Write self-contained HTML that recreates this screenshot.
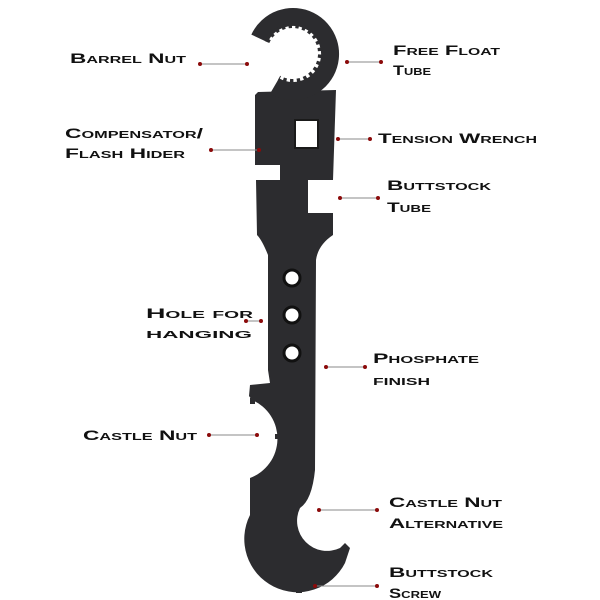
<!DOCTYPE html>
<html><head><meta charset="utf-8"><style>
html,body{margin:0;padding:0;background:#fff;}
svg{display:block;}
text{font-family:"Liberation Sans",sans-serif;font-weight:bold;font-variant:small-caps;font-size:14px;fill:#111;}
</style></head><body>
<svg width="600" height="600" viewBox="0 0 600 600" xmlns="http://www.w3.org/2000/svg">
<rect width="600" height="600" fill="#fff"/>
<path fill="#2c2c2f" d="M258,92 L336,90 L333,180 L308,180 L308,213 L333,213 L333,235 Q318,245 316,260 L315,470 Q312,500 300,508 A30 30 0 0 0 340,548 L345,543 L350,548 L345,563 A52 52 0 0 1 250,515 L250,478 A42 42 0 0 0 252,400 L249,396 L250,385 L270,383 L268,370 L268,255 Q262,240 257,235 L256,180 L280,180 L280,165 L255,165 L255,95 Z"/>
<path fill="none" stroke="#2c2c2f" stroke-width="18" d="M259.5,38.4 A37 37 0 1 1 274.5,86"/>
<path fill="none" stroke="#2c2c2f" stroke-width="5" stroke-dasharray="3.5 3.5" d="M267,42 A28 28 0 1 1 279,78"/>
<rect x="295" y="120" width="23" height="28" fill="#fff" stroke="#1a1a1a" stroke-width="2"/>
<circle cx="292" cy="278" r="8" fill="#fff" stroke="#111" stroke-width="3"/>
<circle cx="292" cy="315" r="8" fill="#fff" stroke="#111" stroke-width="3"/>
<circle cx="292" cy="353" r="8" fill="#fff" stroke="#111" stroke-width="3"/>
<rect x="250" y="398" width="5" height="6" fill="#2c2c2f"/>
<rect x="275" y="434" width="6" height="5" fill="#2c2c2f"/>
<rect x="296" y="583" width="6" height="10" fill="#2c2c2f"/>
<g stroke="#888" stroke-width="1">
<line x1="200" y1="64" x2="247" y2="64"/>
<line x1="347" y1="62" x2="381" y2="62"/>
<line x1="211" y1="150" x2="259" y2="150"/>
<line x1="338" y1="139" x2="370" y2="139"/>
<line x1="340" y1="198" x2="378" y2="198"/>
<line x1="246" y1="321" x2="261" y2="321"/>
<line x1="326" y1="367" x2="365" y2="367"/>
<line x1="209" y1="435" x2="257" y2="435"/>
<line x1="319" y1="510" x2="377" y2="510"/>
<line x1="315" y1="586" x2="377" y2="586"/>
</g>
<g fill="#8b0a0a">
<circle cx="200" cy="64" r="2"/><circle cx="247" cy="64" r="2"/>
<circle cx="347" cy="62" r="2"/><circle cx="381" cy="62" r="2"/>
<circle cx="211" cy="150" r="2"/><circle cx="259" cy="150" r="2"/>
<circle cx="338" cy="139" r="2"/><circle cx="370" cy="139" r="2"/>
<circle cx="340" cy="198" r="2"/><circle cx="378" cy="198" r="2"/>
<circle cx="246" cy="321" r="2"/><circle cx="261" cy="321" r="2"/>
<circle cx="326" cy="367" r="2"/><circle cx="365" cy="367" r="2"/>
<circle cx="209" cy="435" r="2"/><circle cx="257" cy="435" r="2"/>
<circle cx="319" cy="510" r="2"/><circle cx="377" cy="510" r="2"/>
<circle cx="315" cy="586" r="2"/><circle cx="377" cy="586" r="2"/>
</g>
<text x="70" y="63" textLength="116" lengthAdjust="spacingAndGlyphs">Barrel Nut</text>
<text x="393" y="55" textLength="107" lengthAdjust="spacingAndGlyphs">Free Float</text>
<text x="393" y="75" textLength="38" lengthAdjust="spacingAndGlyphs">Tube</text>
<text x="65" y="138" textLength="138" lengthAdjust="spacingAndGlyphs">Compensator/</text>
<text x="65" y="158" textLength="120" lengthAdjust="spacingAndGlyphs">Flash Hider</text>
<text x="378" y="143" textLength="159" lengthAdjust="spacingAndGlyphs">Tension Wrench</text>
<text x="387" y="190" textLength="104" lengthAdjust="spacingAndGlyphs">Buttstock</text>
<text x="387" y="212" textLength="44" lengthAdjust="spacingAndGlyphs">Tube</text>
<text x="146" y="318" textLength="107" lengthAdjust="spacingAndGlyphs">Hole for</text>
<text x="146" y="338" textLength="106" lengthAdjust="spacingAndGlyphs">hanging</text>
<text x="373" y="363" textLength="106" lengthAdjust="spacingAndGlyphs">Phosphate</text>
<text x="373" y="385" textLength="57" lengthAdjust="spacingAndGlyphs">finish</text>
<text x="83" y="440" textLength="114" lengthAdjust="spacingAndGlyphs">Castle Nut</text>
<text x="389" y="507" textLength="113" lengthAdjust="spacingAndGlyphs">Castle Nut</text>
<text x="389" y="528" textLength="114" lengthAdjust="spacingAndGlyphs">Alternative</text>
<text x="389" y="577" textLength="104" lengthAdjust="spacingAndGlyphs">Buttstock</text>
<text x="389" y="598" textLength="52" lengthAdjust="spacingAndGlyphs">Screw</text>
</svg>
</body></html>
